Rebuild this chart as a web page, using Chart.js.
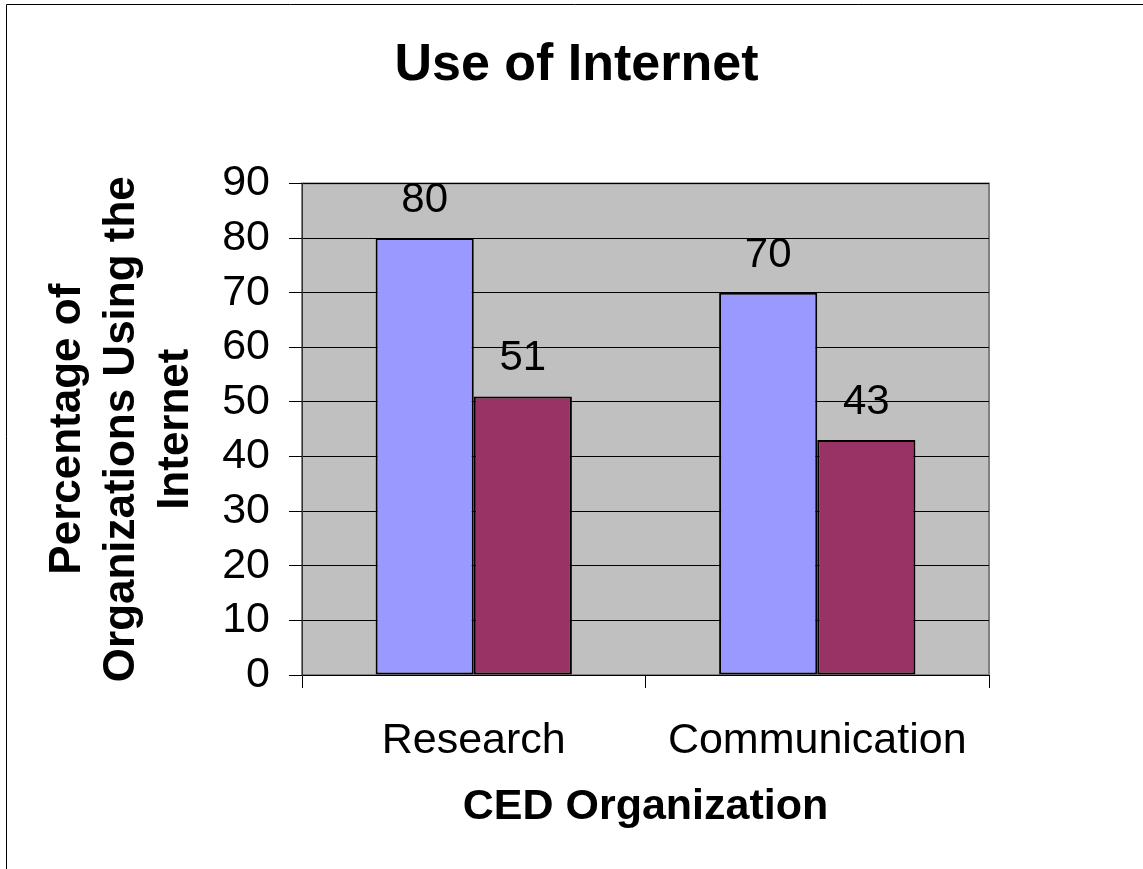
<!DOCTYPE html>
<html>
<head>
<meta charset="utf-8">
<title>Use of Internet</title>
<script src="https://cdn.jsdelivr.net/npm/chart.js@4.4.0/dist/chart.umd.min.js"></script>
<style>
    body { margin: 0; background: #ffffff; }
    canvas { display: block; }
</style>
</head>
<body>
<canvas id="internetChart" width="1143" height="869"></canvas>
<script>
// Chart data
var categories = ['Research', 'Communication']; // CED organization categories
var seriesOne = [80, 70]; // blue bars
var seriesTwo = [51, 43]; // maroon bars
var yMin = 0;
var yMax = 90;
var yStep = 10;

var fontFamily = 'Arial, "Liberation Sans", sans-serif';

// Plugin for the grey plot area and the frame of the picture
var plotBackground = {
    id: 'plotBackground',
    beforeDraw: function(chart) {
        var ctx = chart.ctx;
        var area = chart.chartArea;
        ctx.save();
        ctx.fillStyle = '#C0C0C0';
        ctx.fillRect(area.left, area.top, area.right - area.left, area.bottom - area.top);
        ctx.strokeStyle = '#808080';
        ctx.lineWidth = 2;
        ctx.strokeRect(area.left, area.top, area.right - area.left, area.bottom - area.top);
        ctx.restore();
    },
    afterDraw: function(chart) {
        var ctx = chart.ctx;
        ctx.save();
        ctx.strokeStyle = '#000000';
        ctx.lineWidth = 1;
        ctx.beginPath();
        ctx.moveTo(6.5, chart.height);
        ctx.lineTo(6.5, 4.5);
        ctx.lineTo(chart.width, 4.5);
        ctx.stroke();
        ctx.restore();
    }
};

// Plugin for the value labels above the bars
var valueLabels = {
    id: 'valueLabels',
    afterDatasetsDraw: function(chart) {
        var ctx = chart.ctx;
        ctx.save();
        ctx.fillStyle = '#000000';
        ctx.font = '42px ' + fontFamily;
        ctx.textAlign = 'center';
        ctx.textBaseline = 'alphabetic';
        chart.data.datasets.forEach(function(dataset, i) {
            var meta = chart.getDatasetMeta(i);
            meta.data.forEach(function(bar, j) {
                ctx.fillText(String(dataset.data[j]), bar.x, bar.y - 26);
            });
        });
        ctx.restore();
    }
};

var ctx = document.getElementById('internetChart').getContext('2d');
var internetChart = new Chart(ctx, {
    type: 'bar',
    data: {
        labels: categories,
        datasets: [{
            label: 'Series 1',
            data: seriesOne,
            backgroundColor: '#9999FF',
            borderColor: '#000000',
            borderWidth: 2,
            borderSkipped: false,
            barPercentage: 1,
            categoryPercentage: 2 / 3.5
        }, {
            label: 'Series 2',
            data: seriesTwo,
            backgroundColor: '#993366',
            borderColor: '#000000',
            borderWidth: 2,
            borderSkipped: false,
            barPercentage: 1,
            categoryPercentage: 2 / 3.5
        }]
    },
    options: {
        responsive: false,
        animation: false,
        layout: {
            padding: { left: 10, right: 0, top: 0, bottom: 0 }
        },
        plugins: {
            legend: { display: false },
            tooltip: { enabled: false },
            title: {
                display: true,
                text: 'Use of Internet',
                color: '#000000',
                font: { family: fontFamily, size: 52, weight: 'bold', lineHeight: 1.2 },
                padding: { top: 34, bottom: 87 }
            }
        },
        scales: {
            x: {
                grid: {
                    display: true,
                    drawOnChartArea: false,
                    offset: true,
                    color: '#000000',
                    tickLength: 13
                },
                border: { color: '#000000' },
                ticks: {
                    color: '#000000',
                    padding: 27,
                    maxRotation: 0,
                    font: { family: fontFamily, size: 43 }
                },
                title: {
                    display: true,
                    text: 'CED Organization',
                    color: '#000000',
                    font: { family: fontFamily, size: 43, weight: 'bold', lineHeight: 1.2 },
                    padding: { top: 0, bottom: 36 }
                },
                afterFit: function(scale) {
                    scale.height = 194;
                }
            },
            y: {
                min: yMin,
                max: yMax,
                ticks: {
                    stepSize: yStep,
                    color: '#000000',
                    padding: 19,
                    font: { family: fontFamily, size: 43 }
                },
                grid: {
                    color: '#000000',
                    tickLength: 13
                },
                border: { color: '#333333' },
                title: {
                    display: true,
                    text: ['Percentage of', 'Organizations Using the', 'Internet'],
                    color: '#000000',
                    font: { family: fontFamily, size: 44, weight: 'bold', lineHeight: 1.23 },
                    padding: { top: 31, bottom: 0 }
                },
                afterFit: function(scale) {
                    scale.width = 292;
                }
            },
            // empty axis on the right, keeps the space right of the plot
            yRight: {
                position: 'right',
                min: yMin,
                max: yMax,
                ticks: { display: false },
                grid: { display: false, drawTicks: false },
                border: { display: false },
                afterFit: function(scale) {
                    scale.width = 154;
                }
            }
        }
    },
    plugins: [plotBackground, valueLabels]
});
</script>
</body>
</html>
